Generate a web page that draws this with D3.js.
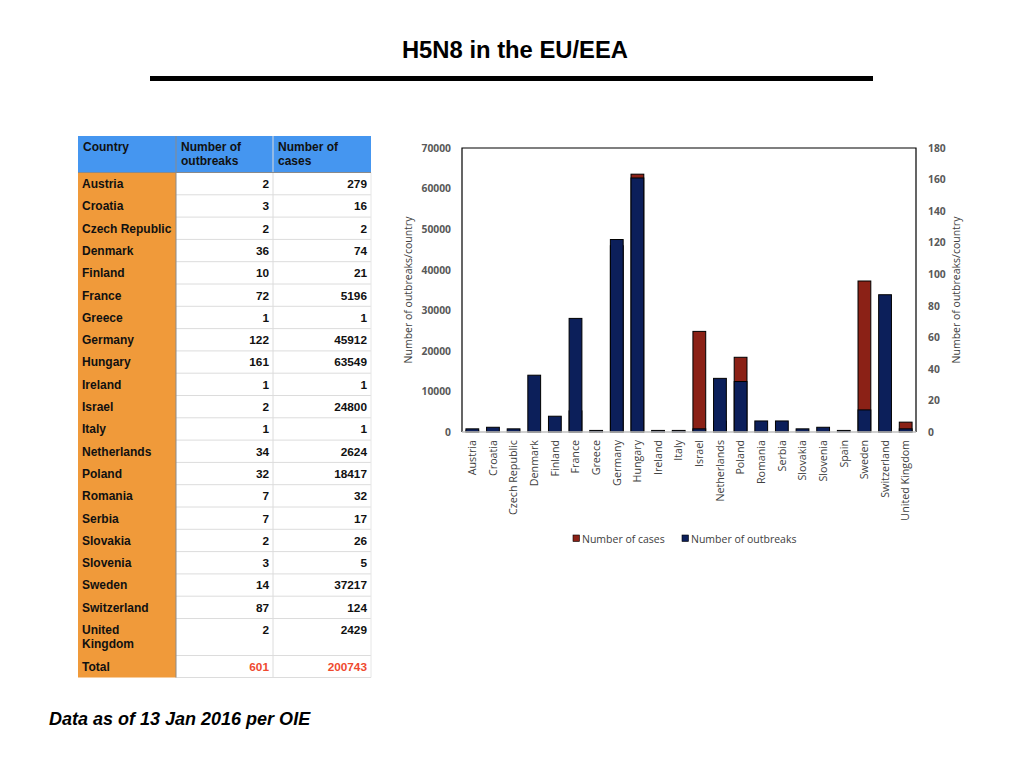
<!DOCTYPE html>
<html>
<head>
<meta charset="utf-8">
<script src="https://cdn.jsdelivr.net/npm/d3@7"></script>
<style>
  body { margin: 0; background: #fff; }
  svg { display: block; }
</style>
</head>
<body>
<div id="chart"></div>
<script>

// table data (as printed in the slide)
var tableCountries = ["Austria", "Croatia", "Czech Republic", "Denmark", "Finland", "France", "Greece",
    "Germany", "Hungary", "Ireland", "Israel", "Italy", "Netherlands", "Poland", "Romania", "Serbia",
    "Slovakia", "Slovenia", "Sweden", "Switzerland", "United Kingdom"];
var tableOutbreaks = [2, 3, 2, 36, 10, 72, 1, 122, 161, 1, 2, 1, 34, 32, 7, 7, 2, 3, 14, 87, 2];
var tableCases = [279, 16, 2, 74, 21, 5196, 1, 45912, 63549, 1, 24800, 1, 2624, 18417, 32, 17, 26, 5, 37217, 124, 2429];
var tableTotals = [601, 200743];

// chart data (chart order, includes Spain)
var chartCountries = ["Austria", "Croatia", "Czech Republic", "Denmark", "Finland", "France", "Greece",
    "Germany", "Hungary", "Ireland", "Italy", "Israel", "Netherlands", "Poland", "Romania", "Serbia",
    "Slovakia", "Slovenia", "Spain", "Sweden", "Switzerland", "United Kingdom"];
var chartOutbreaks = [2, 3, 2, 36, 10, 72, 1, 122, 161, 1, 1, 2, 34, 32, 7, 7, 2, 3, 1, 14, 87, 2];
var chartCases = [279, 16, 2, 74, 21, 5196, 1, 45912, 63549, 1, 1, 24800, 2624, 18417, 32, 17, 26, 5, 0, 37217, 124, 2429];

var casesTicks = [0, 10000, 20000, 30000, 40000, 50000, 60000, 70000];
var outbreakTicks = [0, 20, 40, 60, 80, 100, 120, 140, 160, 180];

var cs = {
    cases: "#8b2116",
    outbreaks: "#0c1f5a",
    header: "#4596f0",
    orange: "#f09a3a",
    total: "#ef4a2f",
    axisText: "#595959",
    labelText: "#404040"
};

var svg = d3.select("#chart").append("svg")
    .attr("width", 1024)
    .attr("height", 768);

// title and rule
svg.append("text")
    .attr("x", 515).attr("y", 58)
    .attr("text-anchor", "middle")
    .style("font-family", "'Liberation Sans Narrow', 'Liberation Sans', Arial, sans-serif")
    .style("font-weight", "bold")
    .style("font-size", "23.8px")
    .text("H5N8 in the EU/EEA");

svg.append("rect")
    .attr("x", 150).attr("y", 76)
    .attr("width", 723).attr("height", 5)
    .style("fill", "#000");

// ---------- table ----------
var tbl = svg.append("g").attr("class", "table");
var colX = [78, 176, 273, 371];
var headTop = 136, headBottom = 172.5, rowH = 22.3;
var tableFont = "'Liberation Sans', Arial, sans-serif";

tbl.append("rect")
    .attr("x", colX[0]).attr("y", headTop)
    .attr("width", colX[3] - colX[0]).attr("height", headBottom - headTop)
    .style("fill", cs.header);

var headers = [["Country"], ["Number of", "outbreaks"], ["Number of", "cases"]];
headers.forEach(function(lines, i){
    var t = tbl.append("text")
        .attr("x", colX[i] + 5).attr("y", 151)
        .style("font-family", tableFont)
        .style("font-weight", "bold")
        .style("font-size", "12px")
        .style("fill", "#111");
    lines.forEach(function(l, j){
        t.append("tspan").attr("x", colX[i] + 5).attr("dy", j === 0 ? 0 : 14).text(l);
    });
});

var rows = tableCountries.map(function(c, i){
    return {country: c, outbreaks: tableOutbreaks[i], cases: tableCases[i], h: c === "United Kingdom" ? 37 : rowH};
});
rows.push({country: "Total", outbreaks: tableTotals[0], cases: tableTotals[1], h: 22, total: true});

var yy = headBottom;
rows.forEach(function(r){ r.y = yy; yy += r.h; });
var tableBottom = yy;

tbl.append("rect")
    .attr("x", colX[0]).attr("y", headBottom)
    .attr("width", colX[1] - colX[0]).attr("height", tableBottom - headBottom)
    .style("fill", cs.orange);

var rowG = tbl.selectAll("g.row").data(rows).enter().append("g").attr("class", "row");

rowG.append("line")
    .attr("x1", colX[1]).attr("x2", colX[3])
    .attr("y1", function(d){ return d.y + d.h; })
    .attr("y2", function(d){ return d.y + d.h; })
    .style("stroke", "#dcdcdc").style("stroke-width", 1);

rowG.append("text")
    .attr("x", colX[0] + 4)
    .attr("y", function(d){ return d.y + 15.5; })
    .style("font-family", tableFont)
    .style("font-weight", "bold")
    .style("font-size", "12px")
    .style("fill", "#111")
    .each(function(d){
        var t = d3.select(this);
        if(d.country === "United Kingdom"){
            t.append("tspan").attr("x", colX[0] + 4).text("United");
            t.append("tspan").attr("x", colX[0] + 4).attr("dy", 14).text("Kingdom");
        } else {
            t.text(d.country);
        }
    });

[["outbreaks", 2], ["cases", 3]].forEach(function(col){
    rowG.append("text")
        .attr("x", colX[col[1]] - 4)
        .attr("y", function(d){ return d.y + 15.5; })
        .attr("text-anchor", "end")
        .style("font-family", tableFont)
        .style("font-weight", "bold")
        .style("font-size", "11.8px")
        .style("fill", function(d){ return d.total ? cs.total : "#111"; })
        .text(function(d){ return d[col[0]]; });
});

// column separators
tbl.append("line")
    .attr("x1", colX[1]).attr("x2", colX[1]).attr("y1", headTop).attr("y2", tableBottom)
    .style("stroke", "#8a8a8a").style("stroke-width", 1);
tbl.append("line")
    .attr("x1", colX[2]).attr("x2", colX[2]).attr("y1", headTop).attr("y2", tableBottom)
    .style("stroke", "#dcdcdc").style("stroke-width", 1);
tbl.append("line")
    .attr("x1", colX[3]).attr("x2", colX[3]).attr("y1", headBottom).attr("y2", tableBottom)
    .style("stroke", "#e6e6e6").style("stroke-width", 1);
tbl.append("line")
    .attr("x1", colX[0]).attr("x2", colX[3]).attr("y1", headBottom).attr("y2", headBottom)
    .style("stroke", "#8a8a8a").style("stroke-width", 1);

// ---------- chart ----------
var plot = {left: 462, right: 916, top: 148, bottom: 432};
var chartFont = "'Open Sans', 'Noto Sans', sans-serif";

var x = d3.scaleBand()
    .domain(chartCountries)
    .range([plot.left, plot.right])
    .paddingInner(0.38)
    .paddingOuter(0.19);

var yCases = d3.scaleLinear().domain([0, 70000]).range([plot.bottom, plot.top]);
var yOut = d3.scaleLinear().domain([0, 180]).range([plot.bottom, plot.top]);

var chart = svg.append("g").attr("class", "chart");

var data = chartCountries.map(function(c, i){
    return {country: c, cases: chartCases[i], outbreaks: chartOutbreaks[i]};
});

// cases bars (behind), left axis
chart.selectAll("rect.cases").data(data.filter(function(d){ return d.cases > 0; }))
    .enter().append("rect")
    .attr("class", "cases")
    .attr("x", function(d){ return x(d.country); })
    .attr("width", x.bandwidth())
    .attr("y", function(d){ return yCases(d.cases); })
    .attr("height", function(d){ return plot.bottom - yCases(d.cases); })
    .style("fill", cs.cases)
    .style("stroke", "#000")
    .style("stroke-width", 1);

// outbreak bars (front), right axis
chart.selectAll("rect.outbreaks").data(data)
    .enter().append("rect")
    .attr("class", "outbreaks")
    .attr("x", function(d){ return x(d.country); })
    .attr("width", x.bandwidth())
    .attr("y", function(d){ return yOut(d.outbreaks); })
    .attr("height", function(d){ return plot.bottom - yOut(d.outbreaks); })
    .style("fill", cs.outbreaks)
    .style("stroke", "#000")
    .style("stroke-width", 1);

// frame
chart.append("path")
    .attr("d", "M" + plot.left + "," + plot.bottom + "V" + plot.top + "H" + plot.right + "V" + plot.bottom)
    .style("fill", "none").style("stroke", "#000").style("stroke-width", 1.2);
chart.append("line")
    .attr("x1", plot.left).attr("x2", plot.right)
    .attr("y1", plot.bottom).attr("y2", plot.bottom)
    .style("stroke", "#c0c0c0").style("stroke-width", 1.5);

// axes
var leftAxis = chart.append("g")
    .attr("transform", "translate(" + (plot.left - 5) + ",0)")
    .call(d3.axisLeft(yCases).tickValues(casesTicks).tickSize(0).tickPadding(6).tickFormat(d3.format("d")));
var rightAxis = chart.append("g")
    .attr("transform", "translate(" + (plot.right + 6) + ",0)")
    .call(d3.axisRight(yOut).tickValues(outbreakTicks).tickSize(0).tickPadding(6).tickFormat(d3.format("d")));
[leftAxis, rightAxis].forEach(function(a){
    a.select(".domain").remove();
    a.selectAll("text")
        .style("font-family", chartFont)
        .style("font-weight", "bold")
        .style("font-size", "10.3px")
        .style("fill", cs.axisText);
});

var xAxis = chart.append("g")
    .attr("transform", "translate(0," + plot.bottom + ")")
    .call(d3.axisBottom(x).tickSize(0).tickPadding(0));
xAxis.select(".domain").remove();
xAxis.selectAll("text")
    .attr("transform", "rotate(-90)")
    .attr("x", -8).attr("y", 0).attr("dy", "0.35em")
    .style("text-anchor", "end")
    .style("font-family", chartFont)
    .style("font-size", "10.7px")
    .style("fill", cs.labelText);

// axis titles
chart.append("text")
    .attr("transform", "translate(412,290) rotate(-90)")
    .attr("text-anchor", "middle")
    .style("font-family", chartFont)
    .style("font-size", "10.5px")
    .style("fill", cs.labelText)
    .text("Number of outbreaks/country");
chart.append("text")
    .attr("transform", "translate(960,290) rotate(-90)")
    .attr("text-anchor", "middle")
    .style("font-family", chartFont)
    .style("font-size", "10.5px")
    .style("fill", cs.labelText)
    .text("Number of outbreaks/country");

// legend
var legendItems = [
    {label: "Number of cases", color: cs.cases, x: 573},
    {label: "Number of outbreaks", color: cs.outbreaks, x: 682}
];
var legend = chart.selectAll("g.legend").data(legendItems).enter().append("g")
    .attr("class", "legend")
    .attr("transform", function(d){ return "translate(" + d.x + ",535)"; });
legend.append("rect")
    .attr("width", 6.5).attr("height", 6.5)
    .style("fill", function(d){ return d.color; })
    .style("stroke", "#000").style("stroke-width", 0.6);
legend.append("text")
    .attr("x", 9).attr("y", 7.5)
    .style("font-family", chartFont)
    .style("font-size", "10.5px")
    .style("fill", cs.labelText)
    .text(function(d){ return d.label; });

// footnote
svg.append("text")
    .attr("x", 49).attr("y", 725)
    .style("font-family", "'Liberation Sans', Arial, sans-serif")
    .style("font-weight", "bold")
    .style("font-style", "italic")
    .style("font-size", "18px")
    .style("fill", "#000")
    .text("Data as of 13 Jan 2016 per OIE");

</script>
</body>
</html>
